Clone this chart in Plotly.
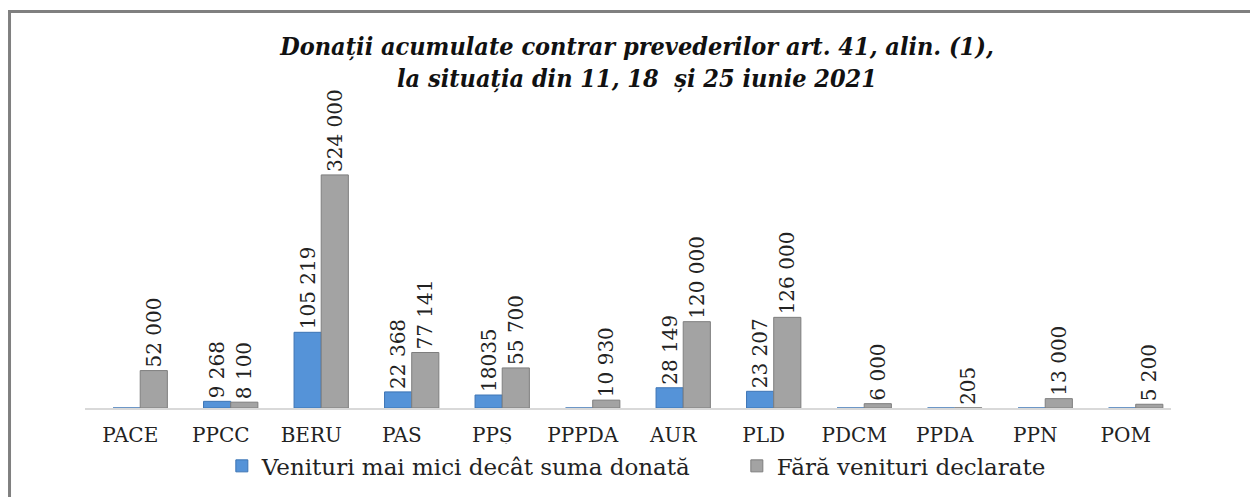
import plotly.graph_objects as go

parties = ["PACE", "PPCC", "BERU", "PAS", "PPȘ", "PPPDA", "AUR", "PLD", "PDCM", "PPDA", "PPN", "POM"]
venituri_mici = [0, 9268, 105219, 22368, 18035, 0, 28149, 23207, 0, 0, 0, 0]
venituri_mici_text = ["", "9 268", "105 219", "22 368", "18035", "", "28 149", "23 207", "", "", "", ""]
fara_venituri = [52000, 8100, 324000, 77141, 55700, 10930, 120000, 126000, 6000, 205, 13000, 5200]
fara_venituri_text = ["52 000", "8 100", "324 000", "77 141", "55 700", "10 930", "120 000", "126 000", "6 000", "205", "13 000", "5 200"]

serif = "DejaVu Serif"

fig = go.Figure()
fig.add_trace(go.Bar(x=parties, y=venituri_mici, name="Venituri mai mici decât suma donată",
                     width=0.3, offset=-0.19,
                     marker=dict(color="#5593D8", line=dict(color="#3C74B4", width=1)),
                     text=venituri_mici_text, textposition="outside", textangle=-90,
                     constraintext="none",
                     textfont=dict(family=serif, size=20, color="#222"), cliponaxis=False))
fig.add_trace(go.Bar(x=parties, y=fara_venituri, name="Fără venituri declarate",
                     width=0.3, offset=0.11,
                     marker=dict(color="#A3A3A3", line=dict(color="#7E7E7E", width=1)),
                     text=fara_venituri_text, textposition="outside", textangle=-90,
                     constraintext="none",
                     textfont=dict(family=serif, size=20, color="#222"), cliponaxis=False))

fig.update_layout(
    width=1258, height=497,
    margin=dict(l=77, r=95, t=100, b=97, autoexpand=False),
    paper_bgcolor="white", plot_bgcolor="white",
    barmode="overlay",
    title=dict(text="<b><i>Donații acumulate contrar prevederilor art. 41, alin. (1),<br>la situația din 11, 18  și 25 iunie 2021</i></b>",
               x=0.5, xanchor="center", xref="container", y=0.906, yanchor="middle",
               font=dict(family="DejaVu Serif Condensed", size=25, color="#111")),
    font=dict(family=serif, color="#222"),
    legend=dict(orientation="h", x=0.126, xanchor="left",
                y=-0.193, yanchor="middle", font=dict(family=serif, size=23, color="#222"),
                traceorder="normal", entrywidthmode="pixels", entrywidth=470),
    xaxis=dict(showgrid=False, showline=True, linecolor="#D9D9D9", linewidth=2,
               ticks="", tickangle=0, ticklabelstandoff=8,
               tickfont=dict(family=serif, size=20, color="#222")),
    yaxis=dict(range=[0, 417000], showgrid=False, showticklabels=False, zeroline=False,
               showline=False),
    showlegend=True,
)
fig.add_shape(type="rect", xref="paper", yref="paper", x0=-0.0695, x1=1.2, y0=-0.6, y1=1.3217,
              line=dict(color="#808080", width=3), fillcolor="rgba(0,0,0,0)", layer="below")

fig.write_html("out.html")
